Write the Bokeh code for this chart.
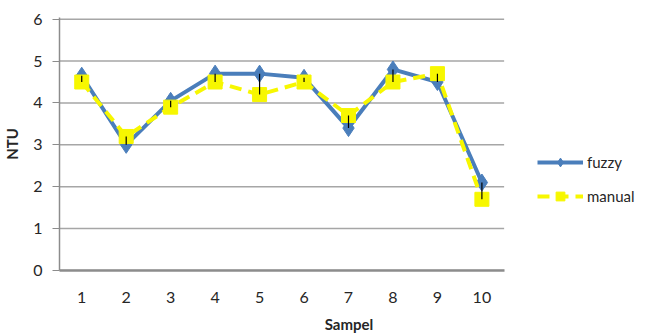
from bokeh.plotting import figure
from bokeh.models import Legend, LegendItem, FixedTicker, Range1d, ColumnDataSource
from bokeh.embed import file_html
from bokeh.resources import INLINE

sampel = [1, 2, 3, 4, 5, 6, 7, 8, 9, 10]
fuzzy = [4.65, 3.0, 4.05, 4.7, 4.7, 4.6, 3.4, 4.8, 4.5, 2.1]
manual = [4.5, 3.2, 3.9, 4.5, 4.2, 4.5, 3.7, 4.5, 4.7, 1.7]
y_ticks = [0, 1, 2, 3, 4, 5, 6]

FONT = "Lato"
TXT = "#262626"
GRID = "#a6a6a6"

W, H = 639, 336
L, T, B, R = 52, 17, 66, 1
frame_w = W - L - R
x_end = 0.5 + frame_w / 45.0

p = figure(width=W, height=H, output_backend="svg", toolbar_location=None,
           x_range=Range1d(0.5, x_end), y_range=Range1d(0, 6.04),
           min_border_left=L, min_border_top=T, min_border_bottom=B, min_border_right=R)
p.outline_line_color = None
p.background_fill_color = "white"
p.border_fill_color = "white"
p.xgrid.grid_line_color = None
p.ygrid.grid_line_color = None

# horizontal gridlines limited to the category span
p.segment(x0=[0.5] * len(y_ticks), x1=[10.5] * len(y_ticks), y0=y_ticks, y1=y_ticks,
          line_color=GRID, line_width=1.5)

p.xaxis.ticker = FixedTicker(ticks=sampel)
p.yaxis.ticker = FixedTicker(ticks=y_ticks)
p.xaxis.bounds = (0.5, 10.5)
p.xaxis.axis_label = "Sampel"
p.yaxis.axis_label = "NTU"
for ax in (p.xaxis[0], p.yaxis[0]):
    ax.axis_label_text_font = FONT
    ax.axis_label_text_font_style = "bold"
    ax.axis_label_text_font_size = "15px"
    ax.axis_label_text_color = TXT
    ax.major_label_text_font = FONT
    ax.major_label_text_font_size = "16px"
    ax.major_label_text_color = TXT
    ax.minor_tick_line_color = None
    ax.axis_line_color = "#8c8c8c"
p.xaxis.axis_line_width = 2.5
p.yaxis.axis_line_width = 1.5
p.xaxis.major_tick_line_color = None
p.xaxis.major_label_standoff = 15
p.xaxis.axis_label_standoff = 9
p.yaxis.major_tick_line_color = "#8c8c8c"
p.yaxis.major_tick_out = 7
p.yaxis.major_tick_in = 0
p.yaxis.major_label_standoff = 10
p.yaxis.axis_label_standoff = 9

src = ColumnDataSource(dict(x=sampel, f=fuzzy, m=manual))

blue = "#4a7ebb"
yellow = "#f7f700"
l1 = p.line("x", "f", source=src, line_color=blue, line_width=4)
s1 = p.scatter("x", "f", source=src, marker="diamond", size=17, fill_color=blue, line_color=blue)
l2 = p.line("x", "m", source=src, line_color=yellow, line_width=4, line_dash="12 7")
s2 = p.scatter("x", "m", source=src, marker="square", size=14, fill_color=yellow, line_color=yellow)
p.segment(x0="x", y0="f", x1="x", y1="m", source=src, line_color="black", line_width=1.2)

legend = Legend(items=[LegendItem(label="fuzzy", renderers=[l1, s1]),
                       LegendItem(label="manual", renderers=[l2, s2])],
                location=(478, 63), background_fill_alpha=0, border_line_color=None,
                glyph_width=46, glyph_height=22, spacing=12, label_standoff=4,
                label_text_font=FONT, label_text_font_size="15px", label_text_color=TXT,
                padding=0, margin=0)
p.add_layout(legend)

open("out.html", "w").write(file_html(p, INLINE))
